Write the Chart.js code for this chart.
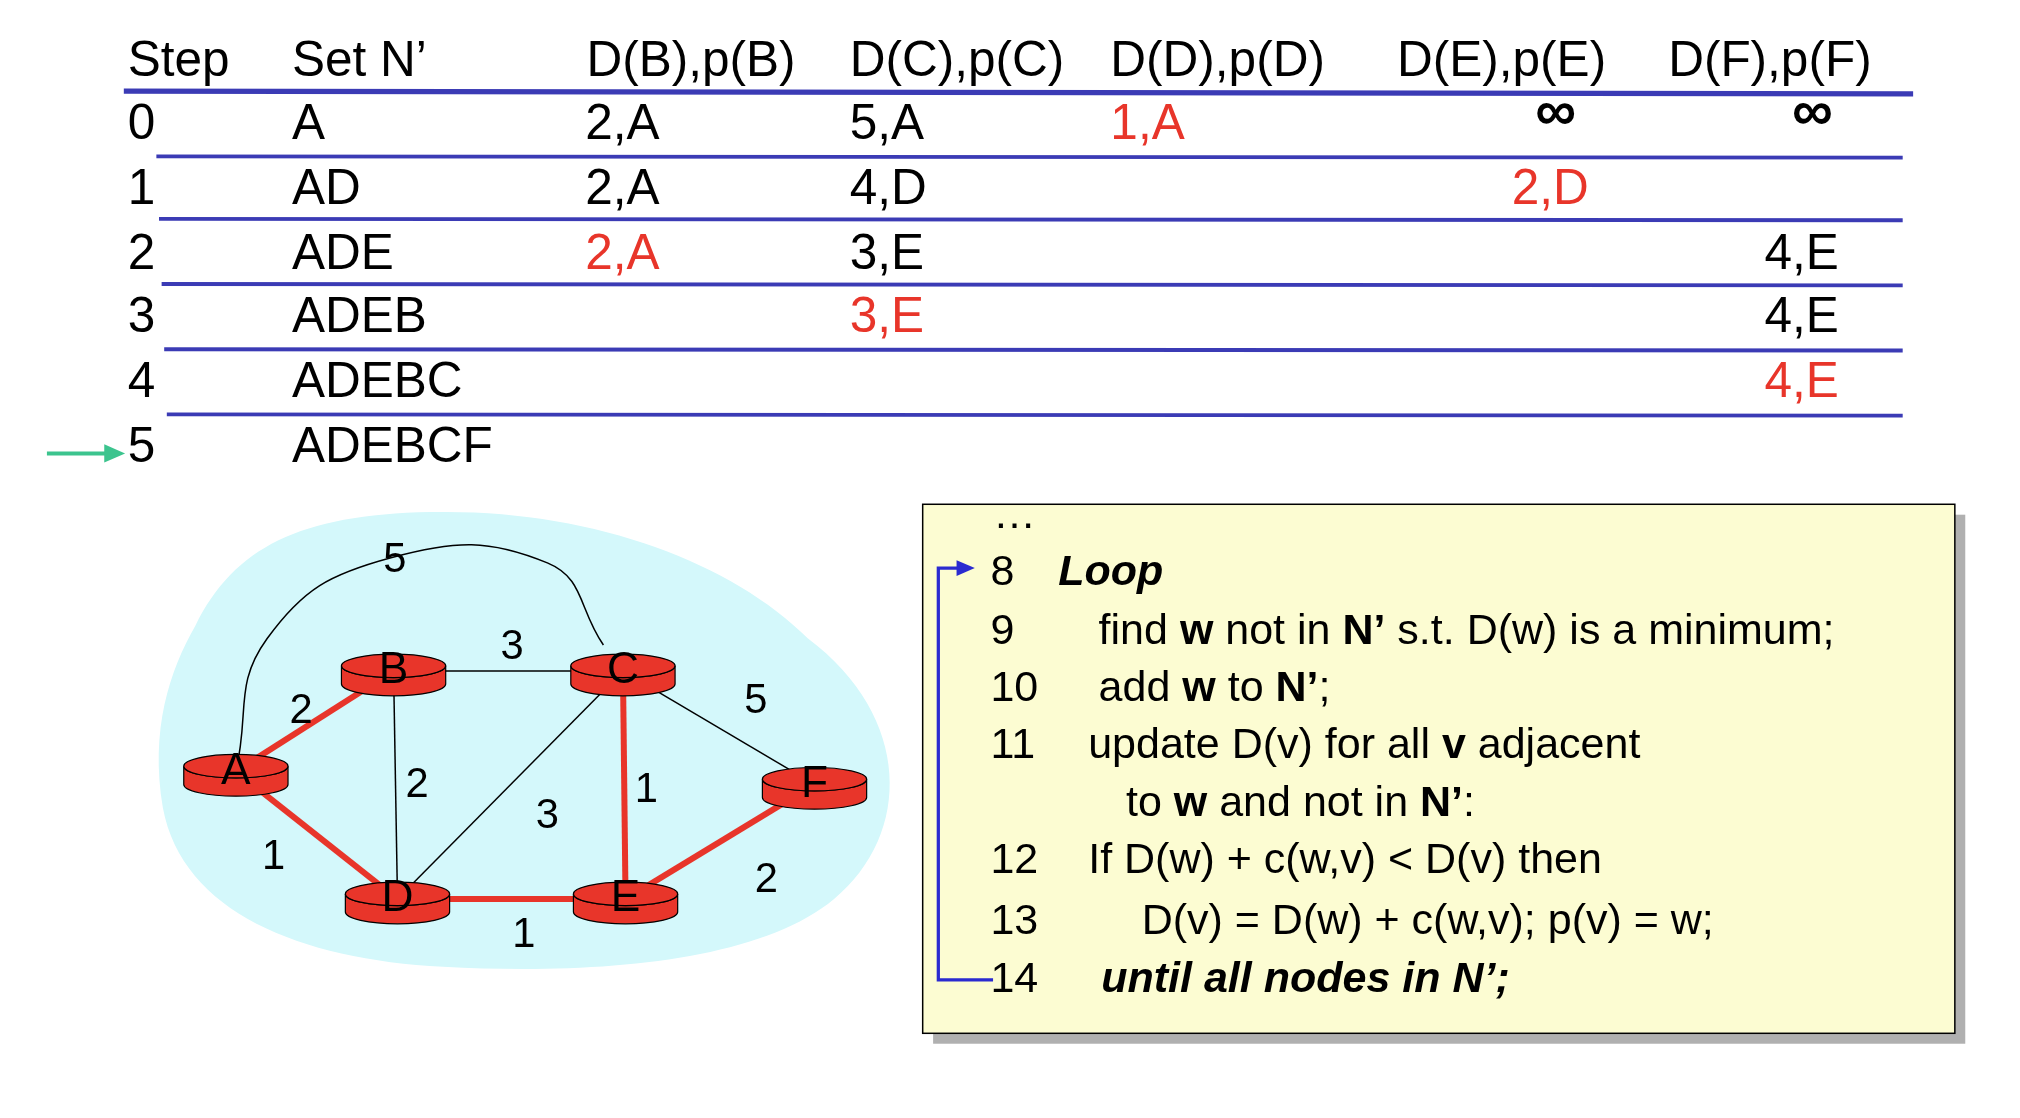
<!DOCTYPE html>
<html><head><meta charset="utf-8">
<script src="https://cdn.jsdelivr.net/npm/chart.js@4"></script>
<style>html,body{margin:0;background:#fff}canvas{display:block}</style>
</head><body>
<div style="width:2020px;height:1118px"><canvas id="c"></canvas></div>
<script>
// table data
var headers = ['Step', 'Set N\u2019', 'D(B),p(B)', 'D(C),p(C)', 'D(D),p(D)', 'D(E),p(E)', 'D(F),p(F)'];
var steps = ['0', '1', '2', '3', '4', '5'];
var setN = ['A', 'AD', 'ADE', 'ADEB', 'ADEBC', 'ADEBCF'];
var colB = ['2,A', '2,A', '2,A', '', '', ''];
var colC = ['5,A', '4,D', '3,E', '3,E', '', ''];
var colD = ['1,A', '', '', '', '', ''];
var colE = ['\u221e', '2,D', '', '', '', ''];
var colF = ['\u221e', '', '4,E', '4,E', '4,E', ''];
var redCells = [[0, 4], [1, 5], [2, 2], [3, 3], [4, 6]]; // [row, col]

// graph data
var nodeNames = ['A', 'B', 'C', 'D', 'E', 'F'];
var nodeX = [181, 302, 478, 305, 480, 625];
var nodeY = [592, 515, 515, 690, 690, 602];
var edges = [['A','B',2,true],['A','D',1,true],['B','D',2,false],['B','C',3,false],['C','D',3,false],
             ['C','E',1,true],['C','F',5,false],['D','E',1,true],['E','F',2,true]];
var edgeLabelX = [231, 210, 320, 393, 420, 496, 580, 402, 588];
var edgeLabelY = [546, 658, 603, 497, 627, 607, 538, 718, 676];
var arcAC = [[181,592],[205,490],[300,428],[420,432],[463,495]];

var pt = function(n){ var i = nodeNames.indexOf(n); return {x: nodeX[i], y: nodeY[i]}; };
var datasets = [];
datasets.push({type:'line', data: arcAC.map(function(p){return {x:p[0],y:p[1]};}), borderColor:'#000', borderWidth:1.5, pointRadius:0, tension:0.45, fill:false});
edges.forEach(function(e){
  datasets.push({type:'line', data:[pt(e[0]), pt(e[1])], borderColor: e[3] ? '#e8352a' : '#000',
    borderWidth: e[3] ? 6 : 1.5, pointRadius:0, fill:false});
});
datasets.push({type:'scatter', data: nodeNames.map(function(n){return pt(n);}), pointRadius:0, nodes:true});

var F = '"Liberation Sans", Arial, sans-serif';
var slide = {
  id: 'slide',
  beforeDatasetsDraw: function(ch) {
    var c = ch.ctx, xs = ch.scales.x, ys = ch.scales.y;
    var X = function(v){return xs.getPixelForValue(v);}, Y = function(v){return ys.getPixelForValue(v);};
    var k = ch.width / 1550;
    // blob
    c.save(); c.fillStyle = '#d4f8fb'; c.beginPath();
    c.moveTo(X(150), Y(480));
    c.bezierCurveTo(X(180), Y(420), X(230), Y(395), X(330), Y(393));
    c.bezierCurveTo(X(450), Y(390), X(560), Y(430), X(620), Y(490));
    c.bezierCurveTo(X(700), Y(550), X(700), Y(640), X(640), Y(690));
    c.bezierCurveTo(X(580), Y(740), X(450), Y(748), X(340), Y(742));
    c.bezierCurveTo(X(230), Y(736), X(140), Y(700), X(125), Y(620));
    c.bezierCurveTo(X(115), Y(560), X(130), Y(515), X(150), Y(480));
    c.fill(); c.restore();
  },
  afterDatasetsDraw: function(ch) {
    var c = ch.ctx, xs = ch.scales.x, ys = ch.scales.y;
    var X = function(v){return xs.getPixelForValue(v);}, Y = function(v){return ys.getPixelForValue(v);};
    var k = ch.width / 1550;
    c.save();
    // nodes (cylinders)
    var meta = ch.getDatasetMeta(ch.data.datasets.length - 1);
    meta.data.forEach(function(p, i){
      var rx = 40*k, ry = 9*k, h = 14*k, cx = p.x, cy = p.y - 4*k;
      c.fillStyle = '#e8352a'; c.strokeStyle = '#000'; c.lineWidth = 1.2;
      c.beginPath(); c.ellipse(cx, cy + h, rx, ry, 0, 0, Math.PI); c.lineTo(cx - rx, cy);
      c.ellipse(cx, cy, rx, ry, 0, Math.PI, 0, true); c.closePath(); c.fill(); c.stroke();
      c.beginPath(); c.ellipse(cx, cy, rx, ry, 0, 0, 2*Math.PI); c.fill(); c.stroke();
      c.fillStyle = '#000'; c.font = (34*k) + 'px ' + F; c.textAlign = 'center'; c.textBaseline = 'middle';
      c.fillText(nodeNames[i], cx, cy + 4*k);
    });
    // edge labels
    c.font = (32*k) + 'px ' + F; c.fillStyle = '#000'; c.textAlign = 'center'; c.textBaseline = 'middle';
    c.fillText('5', X(303), Y(430));
    edges.forEach(function(e, i){ c.fillText(String(e[2]), X(edgeLabelX[i]), Y(edgeLabelY[i])); });

    // table
    c.font = (38*k) + 'px ' + F; c.textAlign = 'left'; c.textBaseline = 'middle';
    var hx = [98, 224, 450, 652, 852, 1072, 1280];
    headers.forEach(function(h, i){ c.fillStyle = '#000'; c.fillText(h, X(hx[i]), Y(48)); });
    c.strokeStyle = '#3b3bb5'; c.lineWidth = 4*k;
    c.beginPath(); c.moveTo(X(95), Y(70)); c.lineTo(X(1468), Y(72)); c.stroke();
    c.lineWidth = 3*k;
    [120, 168, 218, 268, 318].forEach(function(y, i){
      c.beginPath(); c.moveTo(X(120 + i*2), Y(y)); c.lineTo(X(1460), Y(y + 1)); c.stroke();
    });
    var cols = [steps, setN, colB, colC, colD, colE, colF];
    var cx = [98, 224, 449, 652, 852, 1160, 1354];
    var rowY = [96, 146, 196, 244, 294, 344];
    cols.forEach(function(col, j){
      col.forEach(function(v, r){
        if (!v) return;
        var red = redCells.some(function(rc){return rc[0]===r && rc[1]===j;});
        c.fillStyle = red ? '#e8352a' : '#000';
        if (v === '\u221e') { c.font = 'bold ' + (44*k) + 'px ' + F; c.fillText(v, X(j===5?1178:1375), Y(88)); c.font = (38*k) + 'px ' + F; }
        else c.fillText(v, X(cx[j]), Y(rowY[r]));
      });
    });
    // green arrow
    c.strokeStyle = '#3cc48e'; c.fillStyle = '#3cc48e'; c.lineWidth = 3*k;
    c.beginPath(); c.moveTo(X(36), Y(348)); c.lineTo(X(82), Y(348)); c.stroke();
    c.beginPath(); c.moveTo(X(96), Y(348)); c.lineTo(X(80), Y(341)); c.lineTo(X(80), Y(355)); c.closePath(); c.fill();

    // code box
    c.fillStyle = '#b0b0b0'; c.fillRect(X(716), Y(395), X(1508)-X(716), Y(801)-Y(395));
    c.fillStyle = '#fcfcd2'; c.fillRect(X(708), Y(387), X(1500)-X(708), Y(793)-Y(387));
    c.strokeStyle = '#000'; c.lineWidth = 1.5; c.strokeRect(X(708), Y(387), X(1500)-X(708), Y(793)-Y(387));
    var fs = 33*k;
    var lines = [
      [396, 762, null, [['\u2026','n']]],
      [440, 760, '8', [['Loop','bi']]],
      [485, 760, '9', [['find ','n'],['w','b'],[' not in ','n'],['N\u2019','b'],[' s.t. D(w) is a minimum;','n']], 843],
      [529, 760, '10', [['add ','n'],['w','b'],[' to ','n'],['N\u2019','b'],[';','n']], 843],
      [573, 760, '11', [['update D(v) for all ','n'],['v','b'],[' adjacent','n']], 835],
      [617, 760, null, [['to ','n'],['w','b'],[' and not in ','n'],['N\u2019','b'],[':','n']], 864],
      [661, 760, '12', [['If D(w) + c(w,v) < D(v) then','n']], 835],
      [708, 760, '13', [['D(v) = D(w) + c(w,v); p(v) = w;','n']], 876],
      [752, 760, '14', [['until all nodes in N\u2019;','bi']], 845]
    ];
    c.fillStyle = '#000'; c.textAlign = 'left';
    lines.forEach(function(L){
      var y = Y(L[0]);
      if (L[2]) { c.font = fs + 'px ' + F; c.fillText(L[2], X(L[1]), y); }
      var x = L[4] ? X(L[4]) : (L[2] ? X(812) : X(L[1]));
      L[3].forEach(function(run){
        var st = run[1]==='b' ? 'bold ' : run[1]==='bi' ? 'italic bold ' : '';
        c.font = st + fs + 'px ' + F; c.fillText(run[0], x, y); x += c.measureText(run[0]).width;
      });
    });
    // loop arrow
    c.strokeStyle = '#2a2ad0'; c.fillStyle = '#2a2ad0'; c.lineWidth = 2.5*k;
    c.beginPath(); c.moveTo(X(762), Y(752)); c.lineTo(X(720), Y(752)); c.lineTo(X(720), Y(436)); c.lineTo(X(736), Y(436)); c.stroke();
    c.beginPath(); c.moveTo(X(748), Y(436)); c.lineTo(X(734), Y(430)); c.lineTo(X(734), Y(442)); c.closePath(); c.fill();
    c.restore();
  }
};

new Chart(document.getElementById('c'), {
  type: 'scatter',
  data: { datasets: datasets },
  options: {
    responsive: true, maintainAspectRatio: false, animation: false,
    layout: { padding: 0 },
    plugins: { legend: { display: false }, tooltip: { enabled: false } },
    scales: {
      x: { type: 'linear', min: 0, max: 1550, display: false },
      y: { type: 'linear', min: 0, max: 858, reverse: true, display: false }
    }
  },
  plugins: [slide]
});
</script>
</body></html>
